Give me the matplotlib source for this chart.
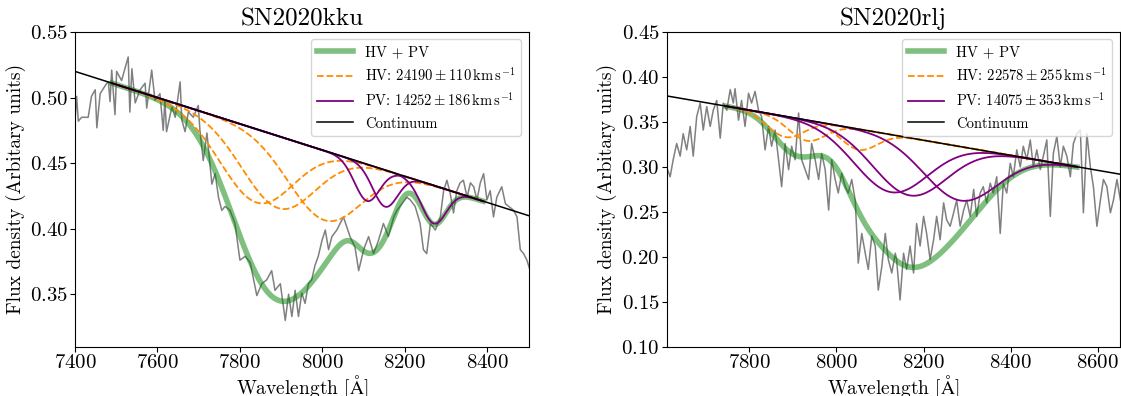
import matplotlib.pyplot as plt
import numpy as np

plt.rcParams['font.family'] = ['serif']
plt.rcParams['font.serif'] = ['cmr10', 'DejaVu Serif']
plt.rcParams['mathtext.fontset'] = 'cm'
plt.rcParams['axes.formatter.use_mathtext'] = True

kku_wl = [7400, 7404, 7408, 7416, 7432, 7440, 7449, 7453, 7461, 7477, 7481, 7485,
          7489, 7497, 7501, 7513, 7529, 7533, 7538, 7546, 7558, 7570, 7574, 7586,
          7594, 7606, 7614, 7618, 7622, 7635, 7643, 7655, 7659, 7667, 7675, 7687,
          7699, 7703, 7711, 7720, 7732, 7740, 7748, 7756, 7764, 7776, 7788, 7800,
          7813, 7825, 7841, 7853, 7865, 7877, 7885, 7898, 7910, 7918, 7926, 7934,
          7942, 7950, 7958, 7966, 7974, 7982, 7990, 7999, 8007, 8015, 8023, 8035,
          8051, 8067, 8079, 8088, 8100, 8112, 8124, 8136, 8148, 8160, 8173, 8181,
          8193, 8205, 8213, 8225, 8237, 8245, 8253, 8262, 8274, 8286, 8294, 8302,
          8310, 8318, 8326, 8334, 8342, 8351, 8359, 8367, 8375, 8383, 8391, 8399,
          8407, 8415, 8423, 8435, 8444, 8452, 8464, 8472, 8480, 8488, 8496, 8504]
kku_flux = [0.483, 0.501, 0.482, 0.485, 0.485, 0.501, 0.506, 0.477, 0.503, 0.511, 0.512, 0.497,
            0.521, 0.487, 0.520, 0.513, 0.531, 0.489, 0.522, 0.496, 0.506, 0.511, 0.492, 0.521,
            0.498, 0.503, 0.475, 0.498, 0.474, 0.493, 0.485, 0.512, 0.483, 0.474, 0.489, 0.485,
            0.494, 0.475, 0.452, 0.473, 0.434, 0.442, 0.424, 0.414, 0.417, 0.414, 0.404, 0.376,
            0.379, 0.374, 0.349, 0.358, 0.361, 0.368, 0.353, 0.358, 0.330, 0.350, 0.333, 0.353,
            0.333, 0.351, 0.343, 0.358, 0.361, 0.372, 0.379, 0.391, 0.399, 0.384, 0.394, 0.399,
            0.409, 0.394, 0.386, 0.368, 0.384, 0.394, 0.381, 0.391, 0.404, 0.394, 0.409, 0.414,
            0.419, 0.424, 0.422, 0.417, 0.404, 0.384, 0.381, 0.404, 0.399, 0.409, 0.429, 0.437,
            0.427, 0.412, 0.429, 0.435, 0.437, 0.424, 0.435, 0.432, 0.422, 0.435, 0.442, 0.422,
            0.429, 0.409, 0.424, 0.432, 0.419, 0.417, 0.414, 0.409, 0.384, 0.381, 0.376, 0.368]
kku_cont_wl = [7400, 8500]
kku_cont = [0.520, 0.410]
kku_fit_range = [7490, 8390]
# Gaussian components (centre [A], depth, width [A])
kku_hv_centre = [7840, 7893, 8005]
kku_hv_depth = [0.056, 0.055, 0.053]
kku_hv_width = 88
kku_pv_centre = [8108, 8152, 8270]
kku_pv_depth = [0.028, 0.028, 0.029]
kku_pv_width = 30
kku_hv_label = r'HV: $24190 \pm 110\,\mathrm{km\,s^{-1}}$'
kku_pv_label = r'PV: $14252 \pm 186\,\mathrm{km\,s^{-1}}$'

# ---- SN2020rlj ----
rlj_wl = [7610, 7618, 7625, 7633, 7641, 7648, 7656, 7664, 7671, 7679, 7687, 7694,
          7702, 7710, 7717, 7725, 7733, 7740, 7748, 7756, 7763, 7767, 7775, 7782,
          7790, 7798, 7805, 7813, 7821, 7828, 7836, 7844, 7851, 7859, 7867, 7874,
          7882, 7890, 7897, 7905, 7913, 7920, 7928, 7936, 7943, 7951, 7959, 7966,
          7974, 7982, 7989, 7997, 8004, 8012, 8020, 8027, 8035, 8043, 8050, 8058,
          8066, 8073, 8081, 8089, 8096, 8104, 8112, 8119, 8127, 8135, 8138, 8146,
          8154, 8161, 8169, 8177, 8184, 8192, 8200, 8207, 8215, 8223, 8230, 8238,
          8246, 8253, 8261, 8269, 8276, 8284, 8292, 8299, 8307, 8315, 8322, 8330,
          8337, 8345, 8353, 8360, 8368, 8376, 8383, 8391, 8399, 8406, 8414, 8422,
          8429, 8437, 8445, 8452, 8460, 8468, 8475, 8483, 8491, 8498, 8506, 8514,
          8521, 8529, 8537, 8544, 8552, 8560, 8567, 8575, 8583, 8590, 8598, 8606,
          8613, 8621, 8629, 8636, 8644, 8652]
rlj_flux = [0.300, 0.289, 0.308, 0.326, 0.312, 0.337, 0.319, 0.345, 0.312, 0.356, 0.371, 0.341,
            0.367, 0.345, 0.363, 0.374, 0.332, 0.371, 0.363, 0.386, 0.371, 0.387, 0.352, 0.374,
            0.345, 0.382, 0.371, 0.384, 0.363, 0.356, 0.319, 0.345, 0.323, 0.341, 0.308, 0.278,
            0.326, 0.297, 0.323, 0.308, 0.360, 0.308, 0.297, 0.286, 0.326, 0.308, 0.286, 0.315,
            0.297, 0.252, 0.308, 0.286, 0.271, 0.293, 0.278, 0.271, 0.286, 0.263, 0.193, 0.226,
            0.204, 0.186, 0.223, 0.212, 0.163, 0.189, 0.226, 0.197, 0.182, 0.204, 0.197, 0.152,
            0.204, 0.186, 0.212, 0.182, 0.237, 0.212, 0.245, 0.226, 0.197, 0.219, 0.245, 0.219,
            0.260, 0.241, 0.234, 0.249, 0.263, 0.234, 0.252, 0.263, 0.245, 0.275, 0.245, 0.271,
            0.278, 0.260, 0.282, 0.271, 0.289, 0.226, 0.282, 0.271, 0.304, 0.289, 0.319, 0.300,
            0.323, 0.308, 0.330, 0.300, 0.319, 0.297, 0.312, 0.330, 0.245, 0.315, 0.334, 0.300,
            0.323, 0.312, 0.289, 0.326, 0.337, 0.341, 0.249, 0.337, 0.300, 0.278, 0.234, 0.263,
            0.286, 0.278, 0.249, 0.263, 0.286, 0.263]
rlj_cont_wl = [7610, 8650]
rlj_cont = [0.379, 0.292]
rlj_fit_range = [7747, 8552]
rlj_hv_centre = [7883, 7932, 8051]
rlj_hv_depth = [0.023, 0.023, 0.023]
rlj_hv_width = 42
rlj_pv_centre = [8125, 8168, 8284]
rlj_pv_depth = [0.064, 0.064, 0.060]
rlj_pv_width = 84
rlj_hv_label = r'HV: $22578 \pm 255\,\mathrm{km\,s^{-1}}$'
rlj_pv_label = r'PV: $14075 \pm 353\,\mathrm{km\,s^{-1}}$'


def gauss(wl, centre, depth, width):
    return depth * np.exp(-0.5 * ((wl - centre) / width) ** 2)


def panel(ax, name, wl, flux, cont_wl, cont, fit_range, hv_c, hv_d, hv_w,
          pv_c, pv_d, pv_w, hv_label, pv_label):
    ax.plot(wl, flux, color='grey', lw=1.1)

    x = np.linspace(fit_range[0], fit_range[1], 600)
    c = np.interp(x, cont_wl, cont)
    total = c.copy()
    for cc, dd in zip(hv_c, hv_d):
        total -= gauss(x, cc, dd, hv_w)
    for cc, dd in zip(pv_c, pv_d):
        total -= gauss(x, cc, dd, pv_w)
    ax.plot(x, total, color='green', alpha=0.5, lw=4, label='HV + PV')

    for i, (cc, dd) in enumerate(zip(hv_c, hv_d)):
        ax.plot(x, c - gauss(x, cc, dd, hv_w), color='darkorange', ls='--', lw=1.3,
                label=hv_label if i == 0 else None)
    for i, (cc, dd) in enumerate(zip(pv_c, pv_d)):
        ax.plot(x, c - gauss(x, cc, dd, pv_w), color='purple', lw=1.3,
                label=pv_label if i == 0 else None)

    ax.plot(cont_wl, cont, color='k', lw=1.1, label='Continuum')

    ax.set_title(name, fontsize=18, pad=5)
    ax.set_xlabel(r'Wavelength [$\mathrm{\AA}$]', fontsize=14, labelpad=1)
    ax.set_ylabel('Flux density (Arbitary units)', fontsize=14, labelpad=3)
    ax.tick_params(labelsize=15, length=3.5, pad=1.5)
    ax.legend(loc='upper right', fontsize=10.5, handlelength=2.5)


fig = plt.figure(figsize=(11.21, 3.96), dpi=100)
ax1 = fig.add_axes([0.0669, 0.1245, 0.4046, 0.7945])
ax2 = fig.add_axes([0.5947, 0.1245, 0.4040, 0.7945])

panel(ax1, 'SN2020kku', kku_wl, kku_flux, kku_cont_wl, kku_cont, kku_fit_range,
      kku_hv_centre, kku_hv_depth, kku_hv_width, kku_pv_centre, kku_pv_depth,
      kku_pv_width, kku_hv_label, kku_pv_label)
ax1.set_xlim(7400, 8500)
ax1.set_ylim(0.31, 0.55)
ax1.set_xticks([7400, 7600, 7800, 8000, 8200, 8400])
ax1.set_yticks([0.35, 0.40, 0.45, 0.50, 0.55])

panel(ax2, 'SN2020rlj', rlj_wl, rlj_flux, rlj_cont_wl, rlj_cont, rlj_fit_range,
      rlj_hv_centre, rlj_hv_depth, rlj_hv_width, rlj_pv_centre, rlj_pv_depth,
      rlj_pv_width, rlj_hv_label, rlj_pv_label)
ax2.set_xlim(7610, 8650)
ax2.set_ylim(0.10, 0.45)
ax2.set_xticks([7800, 8000, 8200, 8400, 8600])
ax2.set_yticks([0.10, 0.15, 0.20, 0.25, 0.30, 0.35, 0.40, 0.45])

fig.savefig('out.png', dpi=100)
